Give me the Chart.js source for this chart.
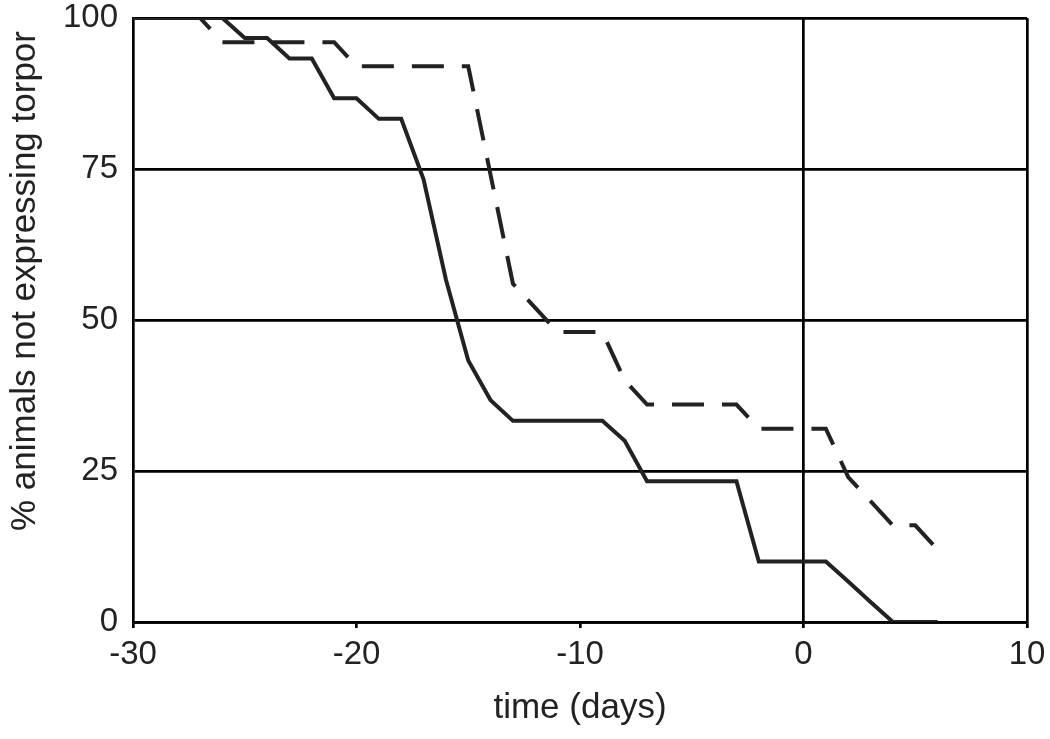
<!DOCTYPE html>
<html>
<head>
<meta charset="utf-8">
<title>torpor</title>
<script src="https://cdn.jsdelivr.net/npm/chart.js@4.4.1/dist/chart.umd.min.js"></script>
<style>
  body { margin: 0; background: #fff; }
</style>
</head>
<body>
<canvas id="myChart" width="1050" height="739"></canvas>
<script>
// time axis, one point per day
let days = [-30, -29, -28, -27, -26, -25, -24, -23, -22, -21, -20, -19, -18, -17, -16, -15, -14, -13, -12,
  -11, -10, -9, -8, -7, -6, -5, -4, -3, -2, -1, 0, 1, 2, 3, 4, 5, 6];

// solid line
let solidValues = [100, 100, 100, 100, 100, 96.7, 96.7, 93.3, 93.3, 86.7, 86.7, 83.3, 83.3, 73.3, 56.7, 43.3, 36.7,
  33.3, 33.3, 33.3, 33.3, 33.3, 30, 23.3, 23.3, 23.3, 23.3, 23.3, 10, 10, 10, 10, 6.7, 3.3, 0, 0, 0];

// dashed line
let dashedValues = [100, 100, 100, 100, 96, 96, 96, 96, 96, 96, 92, 92, 92, 92, 92, 92, 74, 56, 52,
  48, 48, 48, 40, 36, 36, 36, 36, 36, 32, 32, 32, 32, 24, 20, 16, 16, 12];

let xTicks = [-30, -20, -10, 0, 10];
let yTicks = [0, 25, 50, 75, 100];

let xTitle = 'time (days)';
let yTitle = '% animals not expressing torpor';

let ink = '#222';
let fontFamily = '"Liberation Sans", Arial, sans-serif';

function toPoints(values) {
  let pts = [];
  for (let i = 0; i < days.length; i++) {
    pts.push({ x: days[i], y: values[i] });
  }
  return pts;
}

// y title sits a bit above the middle of the axis, so draw it by hand
let yTitlePlugin = {
  id: 'yTitle',
  afterDraw(chart) {
    let ctx = chart.ctx;
    ctx.save();
    ctx.translate(35, 281);
    ctx.rotate(-Math.PI / 2);
    ctx.font = '35px ' + fontFamily;
    ctx.fillStyle = ink;
    ctx.textAlign = 'center';
    ctx.textBaseline = 'alphabetic';
    ctx.fillText(yTitle, 0, 0);
    ctx.restore();
  }
};

Chart.defaults.font.family = fontFamily;
Chart.defaults.color = ink;

const config = {
  type: 'line',
  data: {
    datasets: [
      {
        label: 'solid',
        data: toPoints(solidValues),
        borderColor: ink,
        borderWidth: 4,
        pointRadius: 0,
        tension: 0,
        fill: false
      },
      {
        label: 'dashed',
        data: toPoints(dashedValues),
        borderColor: ink,
        borderWidth: 4,
        borderDash: [32, 18],
        pointRadius: 0,
        tension: 0,
        fill: false
      }
    ]
  },
  options: {
    responsive: false,
    animation: false,
    layout: { padding: { top: 18, right: 23, left: 0, bottom: 0 } },
    plugins: {
      legend: { display: false },
      tooltip: { enabled: false }
    },
    scales: {
      x: {
        type: 'linear',
        min: -30,
        max: 10,
        afterBuildTicks: (axis) => { axis.ticks = xTicks.map(v => ({ value: v })); },
        afterFit: (axis) => {
          axis.height = 117;
          axis.paddingLeft = 0;
          axis.paddingRight = 0;
        },
        ticks: { font: { size: 33 }, color: ink, padding: 7, maxRotation: 0 },
        grid: {
          color: (c) => (c.tick && (c.tick.value === 0 || c.tick.value === 10)) ? '#000' : 'rgba(0,0,0,0)',
          lineWidth: 2.7,
          tickColor: '#000',
          tickLength: 6,
          drawTicks: true
        },
        border: { display: true, color: '#000', width: 2.7 },
        title: {
          display: true,
          text: xTitle,
          font: { size: 35 },
          color: ink,
          padding: { top: 0, bottom: 10 }
        }
      },
      y: {
        min: 0,
        max: 100,
        afterBuildTicks: (axis) => { axis.ticks = yTicks.map(v => ({ value: v })); },
        afterFit: (axis) => {
          axis.width = 133;
          axis.paddingTop = 0;
          axis.paddingBottom = 0;
        },
        ticks: { font: { size: 33 }, color: ink, padding: 15 },
        grid: { color: '#000', lineWidth: 2.7, drawTicks: false },
        border: { display: true, color: '#000', width: 2.7 }
      }
    }
  },
  plugins: [yTitlePlugin]
};

let canvasChart = document.getElementById('myChart');
let chart = new Chart(canvasChart, config);
</script>
</body>
</html>
